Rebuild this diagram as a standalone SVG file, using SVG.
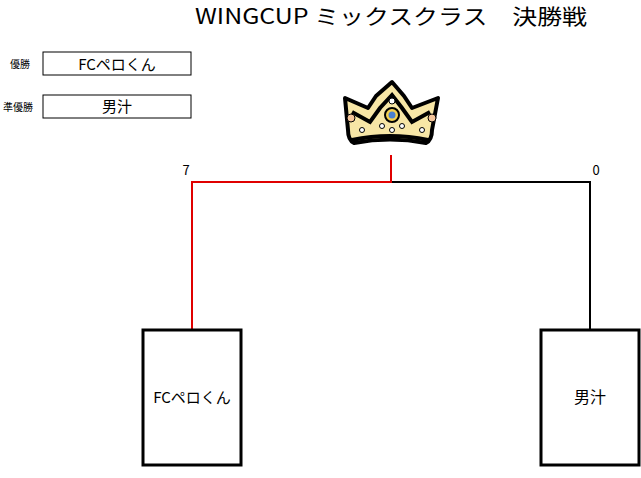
<svg xmlns="http://www.w3.org/2000/svg" width="641" height="478" viewBox="0 0 641 478">
<style>
text{font-family:"Noto Sans CJK JP","DejaVu Sans",sans-serif;fill:#000}
.box{fill:#fff;stroke:#000;stroke-width:1}
.team{fill:#fff;stroke:#000;stroke-width:3}
.red{fill:none;stroke:#e00000;stroke-width:2}
.blk{fill:none;stroke:#000;stroke-width:2}
</style>
<rect width="641" height="478" fill="#fff"/>
<text x="391" y="24" font-size="21" text-anchor="middle" textLength="392" lengthAdjust="spacingAndGlyphs">WINGCUP ミックスクラス　決勝戦</text>
<g id="winner-label"><text x="20" y="68" font-size="10" text-anchor="middle">優勝</text>
<rect class="box" x="43" y="52" width="148" height="23"/><text x="117" y="70" font-size="15" text-anchor="middle">FCペロくん</text></g>
<g id="runner-label"><text x="18" y="111" font-size="10" text-anchor="middle">準優勝</text>
<rect class="box" x="43" y="95" width="148" height="23"/><text x="117" y="112" font-size="15" text-anchor="middle">男汁</text></g>
<g id="crown">
<path d="M345,98 L368,108 L376,96 L392,82 L404,96 L412,108 L438,98 L432,130 Q432,140 426,143 Q390,136 354,143 Q348,140 348,130 Z" fill="#f7e6a6" stroke="#000" stroke-width="4" stroke-linejoin="round"/>
<path d="M352,112 L370,122 L380,108 L392,95 L402,108 L412,122 L430,112" fill="none" stroke="#000" stroke-width="4"/>
<path d="M352,140 Q390,132 428,140" fill="none" stroke="#000" stroke-width="4"/>
<circle cx="392" cy="115" r="7" fill="#f4d050" stroke="#000" stroke-width="2"/>
<circle cx="392" cy="115" r="3.5" fill="#4a7fd0"/>
<circle cx="392" cy="101" r="3" fill="#fff" stroke="#000"/>
<circle cx="351" cy="118" r="4" fill="#f5c49a" stroke="#000"/>
<circle cx="432" cy="118" r="4" fill="#f5c49a" stroke="#000"/>
<circle cx="382" cy="126" r="2.5" fill="#fff" stroke="#000"/>
<circle cx="402" cy="126" r="2.5" fill="#fff" stroke="#000"/>
<circle cx="392" cy="130" r="2.5" fill="#fff" stroke="#000"/>
<circle cx="362" cy="130" r="2.5" fill="#fff" stroke="#000"/>
<circle cx="422" cy="130" r="2.5" fill="#fff" stroke="#000"/>
</g>
<g id="connectors">
<path class="blk" d="M391,182 H590 V329"/>
<path class="red" d="M391,155 V182 H192 V329"/>
</g>
<text x="186" y="175" font-size="13" text-anchor="middle">7</text>
<text x="596" y="175" font-size="13" text-anchor="middle">0</text>
<g id="team-left"><rect class="team" x="143" y="330" width="98" height="135"/><text x="192" y="403" font-size="15" text-anchor="middle">FCペロくん</text></g>
<g id="team-right"><rect class="team" x="541" y="330" width="98" height="135"/><text x="590" y="403" font-size="16" text-anchor="middle">男汁</text></g>
</svg>
